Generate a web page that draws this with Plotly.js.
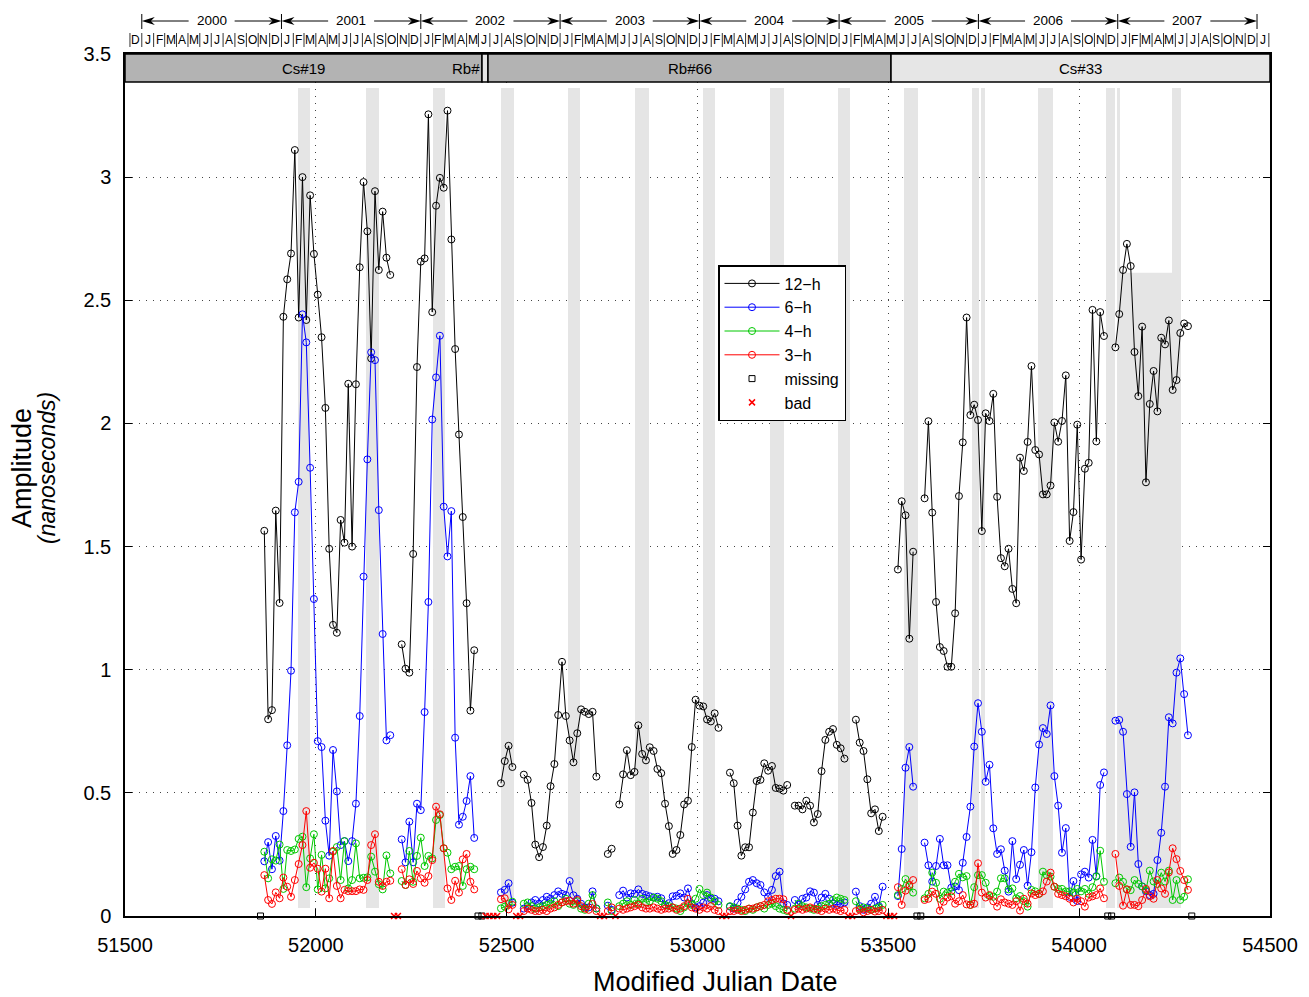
<!DOCTYPE html>
<html><head><meta charset="utf-8">
<script src="https://cdn.plot.ly/plotly-3.0.1.min.js"></script>
<style>body{margin:0;background:#fff}</style>
</head><body><div id="chart" style="width:1309px;height:997px"></div>
<script>
// ---------------- DATA ----------------
const mjd = [
51865,51875,51885,51895,51905,51915,51925,51935,51945,51955,
51965,51975,51985,51995,52005,52015,52025,52035,52045,52055,
52065,52075,52085,52095,52105,52115,52125,52135,52145,52155,
52165,52175,52185,52195,52205,52215,52225,52235,52245,52255,
52265,52275,52285,52295,52305,52315,52325,52335,52345,52355,
52365,52375,52385,52395,52405,52415,52425,52435,52445,52455,
52465,52475,52485,52495,52505,52515,52525,52535,52545,52555,
52565,52575,52585,52595,52605,52615,52625,52635,52645,52655,
52665,52675,52685,52695,52705,52715,52725,52735,52745,52755,
52765,52775,52785,52795,52805,52815,52825,52835,52845,52855,
52865,52875,52885,52895,52905,52915,52925,52935,52945,52955,
52965,52975,52985,52995,53005,53015,53025,53035,53045,53055,
53065,53075,53085,53095,53105,53115,53125,53135,53145,53155,
53165,53175,53185,53195,53205,53215,53225,53235,53245,53255,
53265,53275,53285,53295,53305,53315,53325,53335,53345,53355,
53365,53375,53385,53395,53405,53415,53425,53435,53445,53455,
53465,53475,53485,53495,53505,53515,53525,53535,53545,53555,
53565,53575,53585,53595,53605,53615,53625,53635,53645,53655,
53665,53675,53685,53695,53705,53715,53725,53735,53745,53755,
53765,53775,53785,53795,53805,53815,53825,53835,53845,53855,
53865,53875,53885,53895,53905,53915,53925,53935,53945,53955,
53965,53975,53985,53995,54005,54015,54025,54035,54045,54055,
54065,54075,54085,54095,54105,54115,54125,54135,54145,54155,
54165,54175,54185,54195,54205,54215,54225,54235,54245,54255,
54265,54275,54285
];

const amp12h = [
1.564,0.799,0.836,1.646,1.271,2.433,2.585,2.69,3.11,2.43,
3.00,2.42,2.926,2.688,2.523,2.35,2.063,1.491,1.182,1.150,
1.608,1.516,2.161,1.500,2.159,2.634,2.98,2.78,2.264,2.943,
2.623,2.86,2.673,2.603,
null,null,
1.103,1.004,0.988,1.47,2.229,2.657,2.67,3.255,2.452,2.884,
2.997,2.957,3.27,2.747,2.302,1.955,1.62,1.27,0.834,1.079,
null,null,null,null,null,null,
0.539,0.629,0.691,0.605,
null,null,
0.574,0.553,0.459,0.29,0.239,0.28,0.367,0.527,0.617,0.816,
1.032,0.812,0.713,0.624,0.742,0.839,0.829,0.82,0.829,0.566,
null,null,
0.252,0.273,
null,
0.453,0.575,0.673,0.572,0.585,0.774,0.658,0.632,0.685,0.67,
0.597,0.58,0.456,0.365,0.252,0.268,0.329,0.453,0.468,0.686,
0.878,0.854,0.851,0.798,0.79,0.823,0.764,
null,null,
0.582,0.539,0.367,0.245,0.279,0.279,0.42,0.548,0.553,0.620,
0.59,0.609,0.52,0.517,0.509,0.532,
null,
0.448,0.448,0.433,0.468,0.448,0.380,0.414,0.588,0.715,0.748,
0.759,0.695,0.681,0.639,
null,null,
0.797,0.704,0.67,0.555,0.417,0.433,0.345,0.403,
null,null,null,
1.407,1.684,1.627,1.126,1.479,
null,null,
1.696,2.009,1.638,1.275,1.092,1.076,1.012,1.012,1.229,1.705,
1.923,2.43,2.034,2.076,2.014,1.563,2.041,2.01,2.12,1.702,
1.453,1.42,1.491,1.328,1.27,1.861,1.807,1.925,2.233,1.892,
1.874,1.712,1.712,1.748,2.004,1.926,2.01,2.195,1.523,1.64,
1.995,1.447,1.816,1.84,2.461,1.927,2.452,2.355,
null,null,
2.309,2.444,2.623,2.729,2.639,2.29,2.111,2.393,1.761,2.079,
2.213,2.049,2.348,2.321,2.418,2.136,2.176,2.367,2.406,2.395
];

const amp6h = [
0.222,0.30,0.19,0.325,0.225,0.426,0.693,0.996,1.639,1.763,
2.443,2.329,1.82,1.287,0.71,0.686,0.387,0.245,0.674,0.506,
0.288,0.304,0.223,0.304,0.456,0.812,1.378,1.854,2.289,2.257,
1.648,1.145,0.713,0.734,
null,null,
0.311,0.218,0.383,0.218,0.456,0.43,0.828,1.275,2.016,2.187,
2.356,1.662,1.46,1.644,0.724,0.371,0.403,0.467,0.568,0.317,
null,null,null,null,null,null,
0.096,0.106,0.133,0.054,
null,null,
0.03,0.04,0.055,0.065,0.05,0.065,0.078,0.07,0.085,0.10,
0.09,0.085,0.142,0.084,0.07,0.05,0.035,0.035,0.10,0.031,
null,null,
0.042,0.025,
null,
0.085,0.103,0.075,0.092,0.09,0.108,0.09,0.085,0.08,0.075,
0.078,0.072,0.045,0.052,0.08,0.082,0.092,0.075,0.112,0.05,
0.035,0.04,0.054,0.085,0.069,0.07,0.06,
null,null,
0.038,0.03,0.054,0.078,0.108,0.139,0.146,0.133,0.126,0.096,
0.078,0.106,0.162,0.18,0.051,0.045,
null,
0.065,0.045,0.07,0.075,0.10,0.095,0.045,0.075,0.09,0.07,
0.05,0.045,0.05,0.055,
null,null,
0.099,0.04,0.025,0.035,0.05,0.078,0.04,0.119,
null,null,null,
0.081,0.272,0.602,0.686,0.525,
null,null,
0.298,0.206,0.14,0.203,0.313,0.206,0.206,0.115,0.12,0.105,
0.216,0.321,0.444,0.688,0.864,0.748,0.545,0.614,0.356,0.252,
0.271,0.184,0.099,0.304,0.15,0.208,0.268,0.123,0.259,0.522,
0.696,0.763,0.739,0.855,0.568,0.448,0.257,0.357,0.078,0.142,
0.061,0.169,0.18,0.156,0.309,0.162,0.532,0.583,
null,null,
0.793,0.796,0.748,0.495,0.281,0.502,0.211,0.12,0.10,0.085,
0.09,0.227,0.338,0.525,0.807,0.782,0.988,1.046,0.901,0.734
];

const amp4h = [
0.261,0.153,0.23,0.225,0.29,0.11,0.268,0.264,0.27,0.313,
0.322,0.117,0.234,0.332,0.108,0.248,0.112,0.153,0.261,0.28,
0.146,0.304,0.112,0.146,0.295,0.153,0.155,0.157,0.241,0.18,
0.129,0.108,0.246,0.173,
null,null,
0.142,0.126,0.264,0.139,0.244,0.318,0.203,0.244,0.234,0.39,
0.41,0.275,0.257,0.19,0.2,0.203,0.122,0.19,0.2,0.19,
null,null,null,null,null,null,
0.031,0.038,0.05,0.058,
null,null,
0.05,0.055,0.04,0.03,0.035,0.04,0.045,0.05,0.06,0.04,
0.055,0.07,0.05,0.045,0.06,0.03,0.025,0.05,0.085,0.03,
null,null,
0.055,0.02,
null,
0.04,0.05,0.06,0.045,0.065,0.05,0.07,0.055,0.06,0.075,
0.07,0.06,0.045,0.04,0.035,0.03,0.02,0.035,0.05,0.045,
0.07,0.11,0.085,0.095,0.075,0.06,0.045,
null,null,
0.04,0.035,0.03,0.025,0.02,0.03,0.025,0.035,0.04,0.03,
0.045,0.05,0.04,0.03,0.025,0.02,
null,
0.03,0.05,0.04,0.035,0.03,0.025,0.03,0.04,0.045,0.05,
0.065,0.075,0.07,0.065,
null,null,
0.06,0.03,0.035,0.03,0.025,0.03,0.035,0.045,
null,null,null,
0.085,0.11,0.15,0.12,0.095,
null,null,
0.072,0.09,0.176,0.135,0.07,0.099,0.095,0.10,0.139,0.171,
0.157,0.162,0.045,0.117,0.166,0.166,0.135,0.081,0.078,0.099,
0.153,0.153,0.108,0.112,0.072,0.081,0.06,0.038,0.106,0.10,
0.09,0.18,0.166,0.16,0.119,0.11,0.11,0.10,0.10,0.095,
0.11,0.10,0.11,0.09,0.117,0.16,0.265,0.139,
null,null,
0.133,0.156,0.139,0.108,0.105,0.146,0.13,0.12,0.105,0.184,
0.14,0.13,0.176,0.14,0.184,0.065,0.146,0.065,0.078,0.149
];

const amp3h = [
0.166,0.065,0.049,0.096,0.072,0.156,0.119,0.078,0.146,0.211,
0.288,0.426,0.196,0.216,0.192,0.099,0.192,0.072,0.264,0.122,
0.072,0.106,0.101,0.101,0.101,0.108,0.106,0.146,0.288,0.332,
0.139,0.122,0.139,0.143,
null,null,
0.19,0.126,0.149,0.13,0.183,0.153,0.135,0.162,0.227,0.444,
0.413,0.275,0.112,0.065,0.143,0.095,0.23,0.252,0.139,0.108,
null,null,null,null,null,null,
0.068,0.072,0.027,0.045,
null,null,
0.02,0.03,0.025,0.02,0.02,0.025,0.02,0.03,0.035,0.045,
0.055,0.06,0.062,0.05,0.065,0.04,0.03,0.025,0.049,0.02,
null,null,
0.02,0.035,
null,
0.03,0.025,0.03,0.035,0.04,0.045,0.035,0.03,0.03,0.035,
0.03,0.025,0.03,0.03,0.035,0.025,0.03,0.04,0.07,0.035,
0.03,0.025,0.035,0.03,0.04,0.025,0.02,
null,null,
0.02,0.02,0.025,0.02,0.025,0.03,0.03,0.035,0.04,0.045,
0.06,0.065,0.07,0.07,0.068,0.025,
null,
0.025,0.03,0.025,0.03,0.035,0.03,0.025,0.02,0.03,0.025,
0.03,0.025,0.02,0.025,
null,null,
0.02,0.025,0.015,0.02,0.025,0.018,0.02,0.025,
null,null,null,
0.117,0.045,0.103,0.126,0.146,
null,null,
0.065,0.07,0.099,0.09,0.022,0.058,0.075,0.08,0.05,0.06,
0.085,0.047,0.045,0.05,0.214,0.095,0.075,0.085,0.06,0.038,
0.068,0.055,0.05,0.045,0.06,0.022,0.07,0.05,0.092,0.085,
0.09,0.10,0.14,0.176,0.119,0.09,0.085,0.08,0.07,0.055,
0.07,0.06,0.038,0.075,0.08,0.085,0.112,0.072,
null,null,
0.252,0.122,0.042,0.108,0.045,0.045,0.04,0.065,0.11,0.08,
0.07,0.146,0.112,0.09,0.177,0.275,0.231,0.183,0.146,0.106
];

const missingMjd = [51855,52425,52435,53575,53585,54075,54085,54295];
const badMjd = [52205,52215,52445,52455,52465,52475,52525,52535,52745,52755,
                52785,53065,53075,53245,53395,53405,53495,53505,53515];

// shaded periods (MJD start, end)
const shadeStart = [51953.3,52131.4,52307.0,52485.2,52660.7,52836.3,53014.4,53190.0,53368.1,
                    53541.1,53719.2,53742.8,53892.1,54070.3,54099.1,54243.2];
const shadeEnd   = [51984.7,52165.5,52338.4,52519.2,52692.2,52872.9,53045.9,53226.7,53399.6,
                    53577.7,53737.6,53753.3,53931.4,54093.9,54107.0,54266.8];
const partialShade = {start: 54107.0, end: 54243.2, top: 2.612};

// reference clocks
const clockNames = ['Cs#19', 'Rb#', 'Rb#66', 'Cs#33'];
const clockStart = [51500, 52435.4, 52451.1, 53507];
const clockEnd   = [52435.4, 52451.1, 53507, 54500];
const clockFill  = ['#b3b3b3', '#e6e6e6', '#b3b3b3', '#e6e6e6'];

const years = [2000, 2001, 2002, 2003, 2004, 2005, 2006, 2007];
const monthLetters = ['J','F','M','A','M','J','J','A','S','O','N','D'];

// ---------------- HELPERS ----------------
const FONT = 'Liberation Sans, Arial, Helvetica, sans-serif';
function mjdOf(y, m) { return Date.UTC(y, m, 1) / 86400000 + 40587; }
const PX_DAYS = 3000 / 1145;          // days per pixel on x
function py(imgY) { return (916 - imgY) / 862; }   // image pixel row -> paper y

const shapes = [];
const annotations = [];

// shaded bands
for (let i = 0; i < shadeStart.length; i++) {
  shapes.push({type:'rect', layer:'between', xref:'x', yref:'y',
    x0: shadeStart[i], x1: shadeEnd[i], y0: 0.032, y1: 3.362,
    fillcolor:'#e5e5e5', line:{width:0}});
}
shapes.push({type:'rect', layer:'between', xref:'x', yref:'y',
  x0: partialShade.start, x1: partialShade.end, y0: 0.032, y1: partialShade.top,
  fillcolor:'#e5e5e5', line:{width:0}});

// clock band at top
for (let i = 0; i < clockNames.length; i++) {
  shapes.push({type:'rect', layer:'above', xref:'x', yref:'y',
    x0: clockStart[i], x1: clockEnd[i], y0: 3.386, y1: 3.5,
    fillcolor: clockFill[i], line:{color:'black', width:1.5}});
  const isSmall = (clockEnd[i] - clockStart[i]) < 50;
  annotations.push({xref:'x', yref:'y',
    x: isSmall ? clockStart[i] : (clockStart[i] + clockEnd[i]) / 2,
    xanchor: isSmall ? 'right' : 'center',
    y: 3.443, yanchor:'middle', showarrow:false, text: clockNames[i],
    font:{family:FONT, size:15, color:'black'}});
}

// year row
const yc = py(21);
const ah = 4 / 862;
const aL = 13 * PX_DAYS;
const gap = 23 * PX_DAYS;
years.forEach((y, idx) => {
  const xa = mjdOf(y, 0), xb = mjdOf(y + 1, 0), xm = (xa + xb) / 2;
  shapes.push({type:'line', xref:'x', yref:'paper', x0:xa, x1:xa,
    y0: py(29), y1: py(14), line:{color:'black', width:1}});
  if (idx === years.length - 1) {
    shapes.push({type:'line', xref:'x', yref:'paper', x0:xb, x1:xb,
      y0: py(29), y1: py(14), line:{color:'black', width:1}});
  }
  shapes.push({type:'line', xref:'x', yref:'paper', x0:xa + aL * 0.7, x1:xm - gap, y0:yc, y1:yc,
    line:{color:'black', width:1}});
  shapes.push({type:'line', xref:'x', yref:'paper', x0:xm + gap, x1:xb - aL * 0.7, y0:yc, y1:yc,
    line:{color:'black', width:1}});
  shapes.push({type:'path', xref:'x', yref:'paper', fillcolor:'black', line:{width:0},
    path:`M ${xa},${yc} L ${xa + aL},${yc + ah} L ${xa + aL * 0.7},${yc} L ${xa + aL},${yc - ah} Z`});
  shapes.push({type:'path', xref:'x', yref:'paper', fillcolor:'black', line:{width:0},
    path:`M ${xb},${yc} L ${xb - aL},${yc + ah} L ${xb - aL * 0.7},${yc} L ${xb - aL},${yc - ah} Z`});
  annotations.push({xref:'x', yref:'paper', x: xm, y: yc, yanchor:'middle', showarrow:false,
    text: String(y), font:{family:FONT, size:13.5, color:'black'}});
});

// month row
const my0 = py(47), my1 = py(33), myc = py(40);
const monthList = [[1999, 11]];
years.forEach(y => { for (let m = 0; m < 12; m++) monthList.push([y, m]); });
monthList.push([2008, 0]);
monthList.forEach(([y, m]) => {
  const s = mjdOf(y, m), e = mjdOf(y, m + 1);
  shapes.push({type:'line', xref:'x', yref:'paper', x0:s, x1:s, y0:my0, y1:my1,
    line:{color:'black', width:0.8}});
  annotations.push({xref:'x', yref:'paper', x:(s + e) / 2, y:myc, yanchor:'middle',
    showarrow:false, text: monthLetters[m], font:{family:FONT, size:12, color:'black'}});
});
{
  const s = mjdOf(2008, 1);
  shapes.push({type:'line', xref:'x', yref:'paper', x0:s, x1:s, y0:my0, y1:my1,
    line:{color:'black', width:0.8}});
}

// axis titles (as annotations for exact placement)
annotations.push({xref:'paper', yref:'paper', x:(715 - 125) / 1145, y:py(982),
  xanchor:'center', yanchor:'middle', showarrow:false, text:'Modified Julian Date',
  font:{family:FONT, size:27, color:'black'}});
annotations.push({xref:'paper', yref:'paper', x:(22 - 125) / 1145, y:py(468),
  xanchor:'center', yanchor:'middle', showarrow:false, textangle:-90, text:'Amplitude',
  font:{family:FONT, size:27, color:'black'}});
annotations.push({xref:'paper', yref:'paper', x:(47 - 125) / 1145, y:py(468),
  xanchor:'center', yanchor:'middle', showarrow:false, textangle:-90, text:'<i>(nanoseconds)</i>',
  font:{family:FONT, size:23, color:'black'}});

// ---------------- TRACES ----------------
function series(name, y, color) {
  return {x: mjd, y: y, name: name, type:'scatter', mode:'lines+markers', connectgaps:false,
    line:{color: color, width:1},
    marker:{symbol:'circle-open', size:7, color: color, line:{width:1, color: color}}};
}
const traces = [
  series('12\u2212h', amp12h, '#000000'),
  series('6\u2212h', amp6h, '#0000ff'),
  series('4\u2212h', amp4h, '#00c800'),
  series('3\u2212h', amp3h, '#ff0000'),
  {x: missingMjd, y: missingMjd.map(() => 0), name:'missing', type:'scatter', mode:'markers',
   cliponaxis:false,
   marker:{symbol:'square-open', size:6, color:'black', line:{width:1, color:'black'}}},
  {x: badMjd, y: badMjd.map(() => 0), name:'bad', type:'scatter', mode:'markers',
   cliponaxis:false,
   marker:{symbol:'x-thin-open', size:6, color:'red', line:{width:1.5, color:'red'}}}
];

const layout = {
  width:1309, height:997,
  margin:{l:125, r:39, t:54, b:81},
  paper_bgcolor:'white', plot_bgcolor:'white',
  font:{family:FONT, color:'black'},
  showlegend:true,
  legend:{x:(718 - 125) / 1145, y:py(265), xanchor:'left', yanchor:'top',
    bgcolor:'white', bordercolor:'black', borderwidth:1.5, itemwidth:55,
    font:{family:FONT, size:16, color:'black'}, tracegroupgap:0},
  xaxis:{range:[51500, 54500], tickmode:'linear', tick0:51500, dtick:500, tickformat:'d',
    ticks:'inside', ticklen:7, tickwidth:1, tickcolor:'black',
    showline:true, linecolor:'black', linewidth:1.5, mirror:'ticks',
    showgrid:true, gridcolor:'#444', griddash:'1px,6px', gridwidth:1, zeroline:false,
    tickfont:{family:FONT, size:20, color:'black'}, ticklabelstandoff:10},
  yaxis:{range:[0, 3.5], tickmode:'linear', tick0:0, dtick:0.5,
    ticks:'inside', ticklen:7, tickwidth:1, tickcolor:'black',
    showline:true, linecolor:'black', linewidth:1.5, mirror:'ticks',
    showgrid:true, gridcolor:'#444', griddash:'1px,6px', gridwidth:1, zeroline:false,
    tickfont:{family:FONT, size:20, color:'black'}, ticklabelstandoff:8},
  shapes: shapes,
  annotations: annotations
};

Plotly.newPlot('chart', traces, layout, {displayModeBar:false, responsive:false});
</script></body></html>
